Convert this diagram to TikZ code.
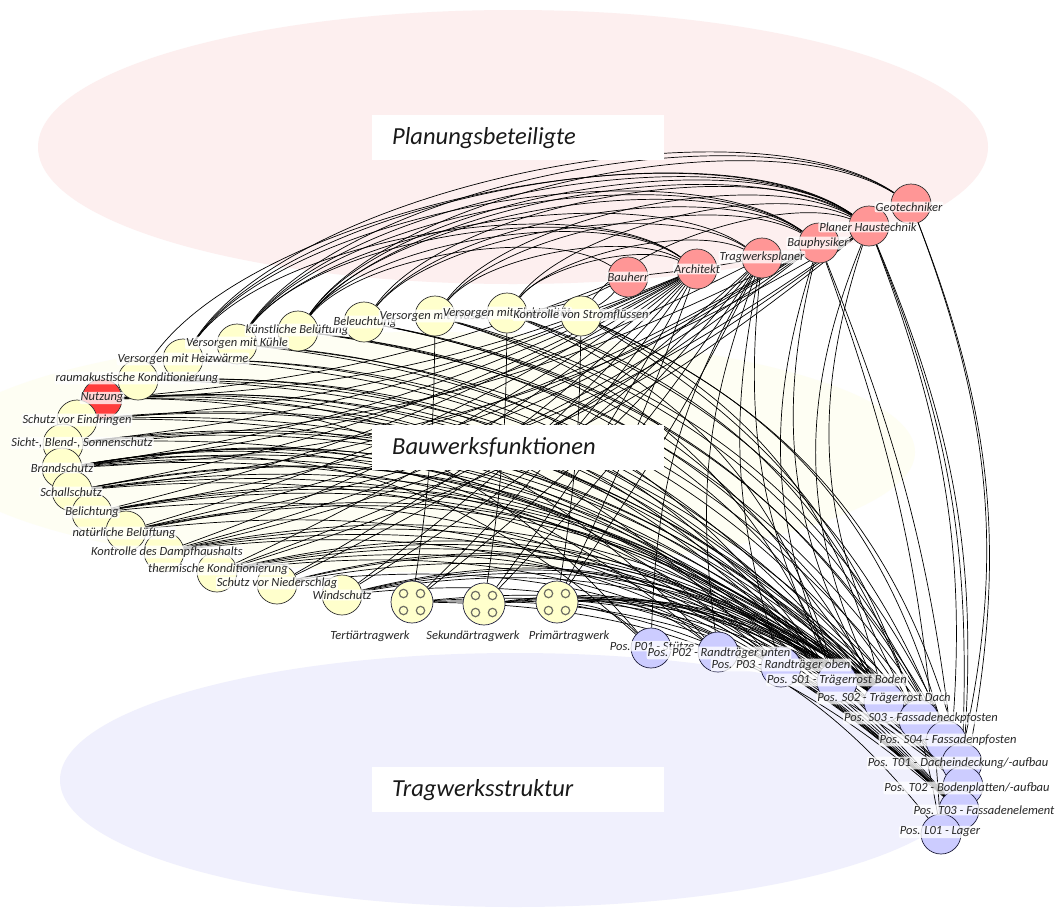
\documentclass[tikz,border=0pt]{standalone}
\usepackage{fontspec}
\setmainfont{Carlito}
\newcommand\lblfont{\fontsize{12.5}{14}\selectfont\itshape}
\newcommand\zonefont{\fontsize{24.5}{28}\selectfont\itshape}

\definecolor{zonepink}{RGB}{253,239,239}
\definecolor{zoneyellow}{RGB}{254,254,243}
\definecolor{zoneblue}{RGB}{240,240,253}
\definecolor{fnfill}{RGB}{255,255,204}
\definecolor{plfill}{RGB}{255,150,150}
\definecolor{usefill}{RGB}{255,60,60}
\definecolor{posfill}{RGB}{204,204,255}
\definecolor{navyline}{RGB}{30,30,60}
\definecolor{dotgray}{RGB}{110,110,100}

\pgfdeclarelayer{zones}
\pgfdeclarelayer{links}
\pgfdeclarelayer{boxes}
\pgfsetlayers{zones,links,boxes,main}

\tikzset{
  fnode/.style={circle, draw=black!80, fill=fnfill, minimum size=40pt, inner sep=0pt, line width=0.7pt},
  plnode/.style={fnode, fill=plfill},
  usenode/.style={fnode, fill=usefill},
  posnode/.style={fnode, fill=posfill, draw=navyline},
  levelnode/.style={fnode, draw=navyline, minimum size=42pt,
    path picture={
      \foreach \dx in {-8.5,8.5}
        \foreach \dy in {-8.5,8.5}
          \draw[dotgray, line width=1.2pt]
            ([shift={(\dx pt,\dy pt)}]path picture bounding box.center) circle (4.2pt);
    }},
  lbl/.style={font=\lblfont, text=black!85, fill=white, fill opacity=0.78, text opacity=1,
    rounded corners=2pt, inner sep=1pt},
  levelcap/.style={font=\lblfont, text=black!85, inner sep=1pt},
  titlebox/.style={rectangle, fill=white, font=\zonefont, text=black!90, anchor=north west,
    minimum height=45pt, text width=252pt, inner xsep=20pt, align=left},
  link/.style={draw=black, line width=0.7pt},
}

\begin{document}
\begin{tikzpicture}[x=1pt,y=1pt]
\useasboundingbox (0,0) rectangle (1057,-908);

% ---------- the three zones ----------
\begin{pgfonlayer}{zones}
  \fill[white] (0,0) rectangle (1057,-908);
  \fill[zonepink] (513,-147) ellipse [x radius=475pt, y radius=137pt];
  \fill[zoneyellow] (425,-452) ellipse [x radius=490pt, y radius=120pt];
  \fill[zoneblue] (515,-780) ellipse [x radius=455pt, y radius=127pt];
\end{pgfonlayer}

\begin{pgfonlayer}{boxes}
  \node[titlebox] (zp) at (372,-115) {Planungsbeteiligte};
  \node[titlebox] (zf) at (372,-425) {Bauwerksfunktionen};
  \node[titlebox] (zt) at (372,-767) {Tragwerksstruktur};
\end{pgfonlayer}

% ---------- planning participants ----------
\node[plnode] (bhr) at (628,-277) {};
\node[plnode] (arc) at (697,-269) {};
\node[plnode] (twp) at (762,-258) {};
\node[plnode] (bph) at (819,-243) {};
\node[plnode] (pha) at (869,-226) {};
\node[plnode] (geo) at (911,-204) {};

% ---------- building functions ----------
\node[usenode] (f9) at (102,-399) {};
\node[fnode] (f1) at (581,-316) {};
\node[fnode] (f2) at (507,-313) {};
\node[fnode] (f3) at (435,-316) {};
\node[fnode] (f4) at (364,-322) {};
\node[fnode] (f5) at (298,-331) {};
\node[fnode] (f6) at (237,-344) {};
\node[fnode] (f7) at (183,-359) {};
\node[fnode] (f8) at (138,-380) {};
\node[fnode] (f10) at (77,-420) {};
\node[fnode] (f11) at (63,-444) {};
\node[fnode] (f12) at (62,-468) {};
\node[fnode] (f13) at (72,-491) {};
\node[fnode] (f14) at (92,-513) {};
\node[fnode] (f15) at (126,-531) {};
\node[fnode] (f16) at (164,-552) {};
\node[fnode] (f17) at (217,-572) {};
\node[fnode] (f18) at (277,-584) {};
\node[fnode] (f19) at (342,-595) {};

% ---------- structural levels ----------
\node[levelnode] (tt) at (412,-602) {};
\node[levelnode] (st) at (484,-604) {};
\node[levelnode] (pt) at (557,-602) {};

% ---------- structural positions ----------
\node[posnode] (p1) at (651,-648) {};
\node[posnode] (p2) at (718,-652) {};
\node[posnode] (p3) at (781,-667) {};
\node[posnode] (s1) at (837,-682) {};
\node[posnode] (s2) at (884,-702) {};
\node[posnode] (s3) at (919,-720) {};
\node[posnode] (s4) at (946,-741) {};
\node[posnode] (t1) at (962,-763) {};
\node[posnode] (t2) at (963,-786) {};
\node[posnode] (t3) at (959,-810) {};
\node[posnode] (l1) at (941,-834) {};

% ---------- labels ----------
\node[lbl] (lbhr) at (628,-277) {Bauherr};
\node[lbl] (larc) at (697,-269) {Architekt};
\node[lbl] (ltwp) at (762,-257) {Tragwerksplaner};
\node[lbl] (lbph) at (818,-243) {Bauphysiker};
\node[lbl] (lpha) at (868,-227) {Planer Haustechnik};
\node[lbl] (lgeo) at (909,-207) {Geotechniker};

\node[lbl] (lf19) at (342,-595) {Windschutz};
\node[lbl] (lf18) at (277,-583) {Schutz vor Niederschlag};
\node[lbl] (lf17) at (218,-569) {thermische Konditionierung};
\node[lbl] (lf16) at (167,-552) {Kontrolle des Dampfhaushalts};
\node[lbl] (lf15) at (124,-533) {natürliche Belüftung};
\node[lbl] (lf14) at (92,-512) {Belichtung};
\node[lbl] (lf13) at (71,-492) {Schallschutz};
\node[lbl] (lf12) at (62,-468) {Brandschutz};
\node[lbl] (lf11) at (82,-443) {Sicht-, Blend-, Sonnenschutz};
\node[lbl] (lf10) at (77,-420) {Schutz vor Eindringen};
\node[lbl] (lf9) at (102,-398) {Nutzung};
\node[lbl] (lf8) at (137,-378) {raumakustische Konditionierung};
\node[lbl] (lf7) at (183,-359) {Versorgen mit Heizwärme};
\node[lbl] (lf6) at (237,-343) {Versorgen mit Kühle};
\node[lbl] (lf5) at (297,-330) {künstliche Belüftung};
\node[lbl] (lf4) at (365,-322) {Beleuchtung};
\node[lbl] (lf3) at (435,-316) {Versorgen mit Wasser};
\node[lbl] (lf2) at (507,-313) {Versorgen mit Elektrizität};
\node[lbl] (lf1) at (581,-315) {Kontrolle von Stromflüssen};

\node[levelcap] (ltt) at (370,-636) {Tertiärtragwerk};
\node[levelcap] (lst) at (473,-636) {Sekundärtragwerk};
\node[levelcap] (lpt) at (569,-636) {Primärtragwerk};

\node[lbl] (lp1) at (652,-646) {Pos. P01 - Stütze};
\node[lbl] (lp2) at (719,-653) {Pos. P02 - Randträger unten};
\node[lbl] (lp3) at (781,-665) {Pos. P03 - Randträger oben};
\node[lbl] (ls1) at (837,-680) {Pos. S01 - Trägerrost Boden};
\node[lbl] (ls2) at (884,-698) {Pos. S02 - Trägerrost Dach};
\node[lbl] (ls3) at (921,-718) {Pos. S03 - Fassadeneckpfosten};
\node[lbl] (ls4) at (948,-740) {Pos. S04 - Fassadenpfosten};
\node[lbl] (lt1) at (958,-763) {Pos. T01 - Dacheindeckung/-aufbau};
\node[lbl] (lt2) at (967,-788) {Pos. T02 - Bodenplatten/-aufbau};
\node[lbl] (lt3) at (984,-810) {Pos. T03 - Fassadenelement};
\node[lbl] (ll1) at (940,-832) {Pos. L01 - Lager};

% ---------- connections ----------
\begin{pgfonlayer}{links}
  % planners arching over to the supply functions
  \foreach \a/\b/\c in {
    pha/f8/46, pha/f7/46, pha/f6/45, pha/f5/45, pha/f5/42, pha/f4/44, pha/f3/42, pha/f2/40, pha/f1/38,
    geo/f7/46, geo/f6/45, geo/f5/44,
    bph/f7/46, bph/f6/45, bph/f5/44, bph/f4/42, bph/f3/40,
    twp/f6/44, twp/f4/42, twp/f2/38,
    arc/f7/46, arc/f6/45, arc/f5/44, arc/f3/40, arc/f2/38,
    bhr/f5/42}
    \draw[link] (\a) to[bend right=\c, looseness=0.64] (\b);

  % neighbouring planners
  \draw[link] (bhr) -- (arc);
  \draw[link] (arc) -- (twp);

  % planners fanning down to the envelope functions and structural levels
  \foreach \a/\b/\c in {
    arc/f9/10, arc/f10/10, arc/f11/9, arc/f12/9, arc/f13/9, arc/f14/8, arc/f15/8,
    arc/f16/8, arc/f17/7, arc/f18/7, arc/f19/6, arc/tt/5, arc/st/4, arc/pt/3,
    bph/f11/12, bph/f13/12, bph/f14/11, bph/f15/10, bph/f16/10, bph/f17/9,
    pha/f12/14, pha/f15/13, pha/f16/12, pha/f17/11,
    twp/f12/10, twp/f18/8, twp/f19/7, twp/tt/6, twp/st/5, twp/pt/4,
    bhr/f1/8, bhr/f2/10, bhr/f9/8}
    \draw[link] (\a) to[bend left=\c] (\b);

  % functions to structural positions
  \foreach \a/\b in {
    f1/s2, f1/s4, f1/t1, f1/l1, f2/s1, f2/s3, f2/t2, f3/s1, f3/t1, f3/t2,
    f4/s2, f4/s4, f4/t1, f5/s2, f5/s3, f5/t1, f6/s1, f6/t1, f6/t2,
    f7/s1, f7/s2, f7/t2, f8/s1, f8/s2, f8/t1, f8/t2,
    f9/p1, f9/p2, f9/p3, f9/s1, f9/s2, f9/t2,
    f10/s3, f10/s4, f10/t2, f10/t3, f11/s3, f11/s4, f11/t1, f11/t3,
    f12/p1, f12/p2, f12/p3, f12/s1, f12/s2, f12/t1, f12/t2, f12/t3,
    f13/s1, f13/s2, f13/t1, f13/t2, f13/t3, f14/s3, f14/s4, f14/t1, f14/t3,
    f15/s3, f15/s4, f15/t3, f16/s4, f16/t1, f16/t2, f16/t3,
    f17/s3, f17/s4, f17/t1, f17/t2, f17/t3, f18/s2, f18/s3, f18/t1, f18/t3,
    f19/s2, f19/s3, f19/s4, f19/t1, f19/t3}
    \draw[link] (\a) to[bend left=25] (\b);

  % structural levels to positions
  \foreach \a/\b in {pt/p1, pt/p2, pt/p3, pt/s1, pt/s2, pt/l1,
                     st/s1, st/s2, st/s3, st/s4, tt/t1, tt/t2, tt/t3, tt/s4}
    \draw[link] (\a) to[bend left=20] (\b);

  % planners down to positions
  \foreach \a/\b/\c in {geo/l1/18, geo/t2/16, pha/t3/14, pha/l1/14, pha/t1/12, bph/t3/8, bph/l1/8}
    \draw[link] (\a) to[bend left=\c] (\b);
  \foreach \a/\b/\c in {bph/s1/20, bph/s2/22, pha/s2/24, pha/s3/24,
                        twp/p1/14, twp/p2/14, twp/p3/14, twp/s1/16}
    \draw[link] (\a) to[bend right=\c] (\b);

  % structural levels up to the supply functions
  \foreach \a/\b/\c in {tt/f3/4, st/f2/4, pt/f1/4}
    \draw[link] (\a) to[bend right=\c] (\b);
\end{pgfonlayer}
\end{tikzpicture}
\end{document}
